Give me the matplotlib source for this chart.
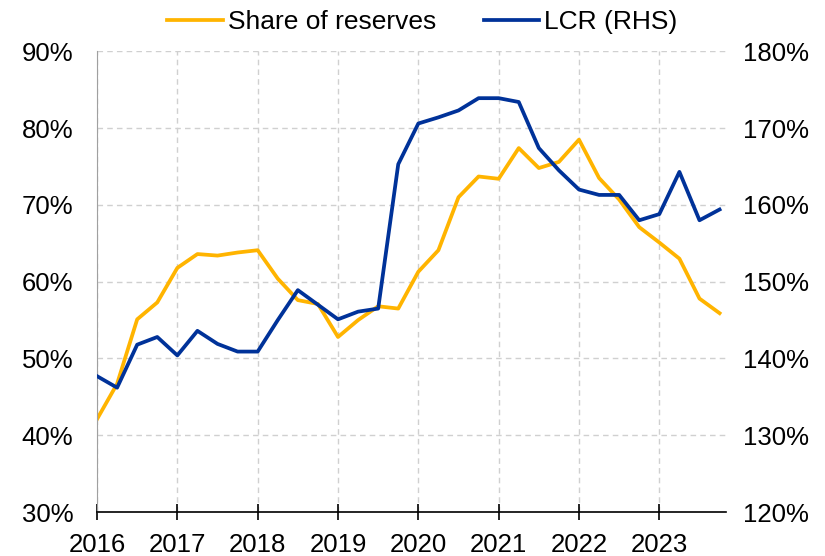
import matplotlib.pyplot as plt
import numpy as np
from matplotlib.ticker import FuncFormatter

plt.rcParams['font.family'] = ['Liberation Sans', 'DejaVu Sans']

# quarterly observations, 2016 Q1 - 2023 Q4
quarters = np.arange(2016, 2024, 0.25)
share_reserves = [42.1, 46.7, 55.1, 57.3, 61.8, 63.6, 63.4, 63.8,
                  64.1, 60.4, 57.6, 57.1, 52.8, 55.0, 56.8, 56.5,
                  61.3, 64.1, 71.0, 73.7, 73.4, 77.4, 74.8, 75.6,
                  78.5, 73.5, 70.7, 67.1, 65.1, 63.0, 57.8, 55.9]
lcr = [137.7, 136.2, 141.8, 142.8, 140.4, 143.6, 141.9, 140.9,
       140.9, 145.0, 148.9, 147.0, 145.1, 146.1, 146.5, 165.3,
       170.6, 171.4, 172.3, 173.9, 173.9, 173.4, 167.4, 164.5,
       162.0, 161.3, 161.3, 158.0, 158.8, 164.3, 158.0, 159.4]
years = list(range(2016, 2024))

yellow = '#FFB400'
blue = '#003299'

fig = plt.figure(figsize=(8.25, 5.56), dpi=100)
ax = fig.add_axes([0.1176, 0.079, 0.7624, 0.8287])
ax2 = ax.twinx()

l1, = ax.plot(quarters, share_reserves, color=yellow, lw=2.7, label='Share of reserves')
l2, = ax2.plot(quarters, lcr, color=blue, lw=2.7, label='LCR (RHS)')

ax.set_xlim(2016, 2023.83)
ax.set_ylim(30, 90)
ax2.set_ylim(120, 180)
ax.set_yticks(range(30, 91, 10))
ax2.set_yticks(range(120, 181, 10))
ax.set_xticks(years)
ax.set_xticklabels([str(y) for y in years])

pct = FuncFormatter(lambda v, _: f'{v:.0f}%')
ax.yaxis.set_major_formatter(pct)
ax2.yaxis.set_major_formatter(pct)

ax.grid(True, color='#d0d0d0', ls=(0, (4, 3)), lw=1)
ax.set_axisbelow(True)

for a in (ax, ax2):
    a.spines['top'].set_visible(False)
    a.spines['right'].set_visible(False)
ax2.spines['left'].set_visible(False)
ax2.spines['bottom'].set_visible(False)
ax.spines['left'].set_color('#a0a0a0')
ax.spines['bottom'].set_color('black')
ax.spines['bottom'].set_linewidth(1.2)

ax.tick_params(axis='y', length=0, labelsize=18.5, pad=17)
ax2.tick_params(axis='y', length=0, labelsize=18.5, pad=12)
ax.tick_params(axis='x', direction='inout', length=12, width=1.2, labelsize=18.5, pad=9)

fig.legend(handles=[l1, l2], loc='upper center', bbox_to_anchor=(0.512, 1.025),
           ncol=2, frameon=False, fontsize=19, handlelength=2.1,
           columnspacing=1.8, handletextpad=0.2)

fig.savefig('out.png', dpi=100)
